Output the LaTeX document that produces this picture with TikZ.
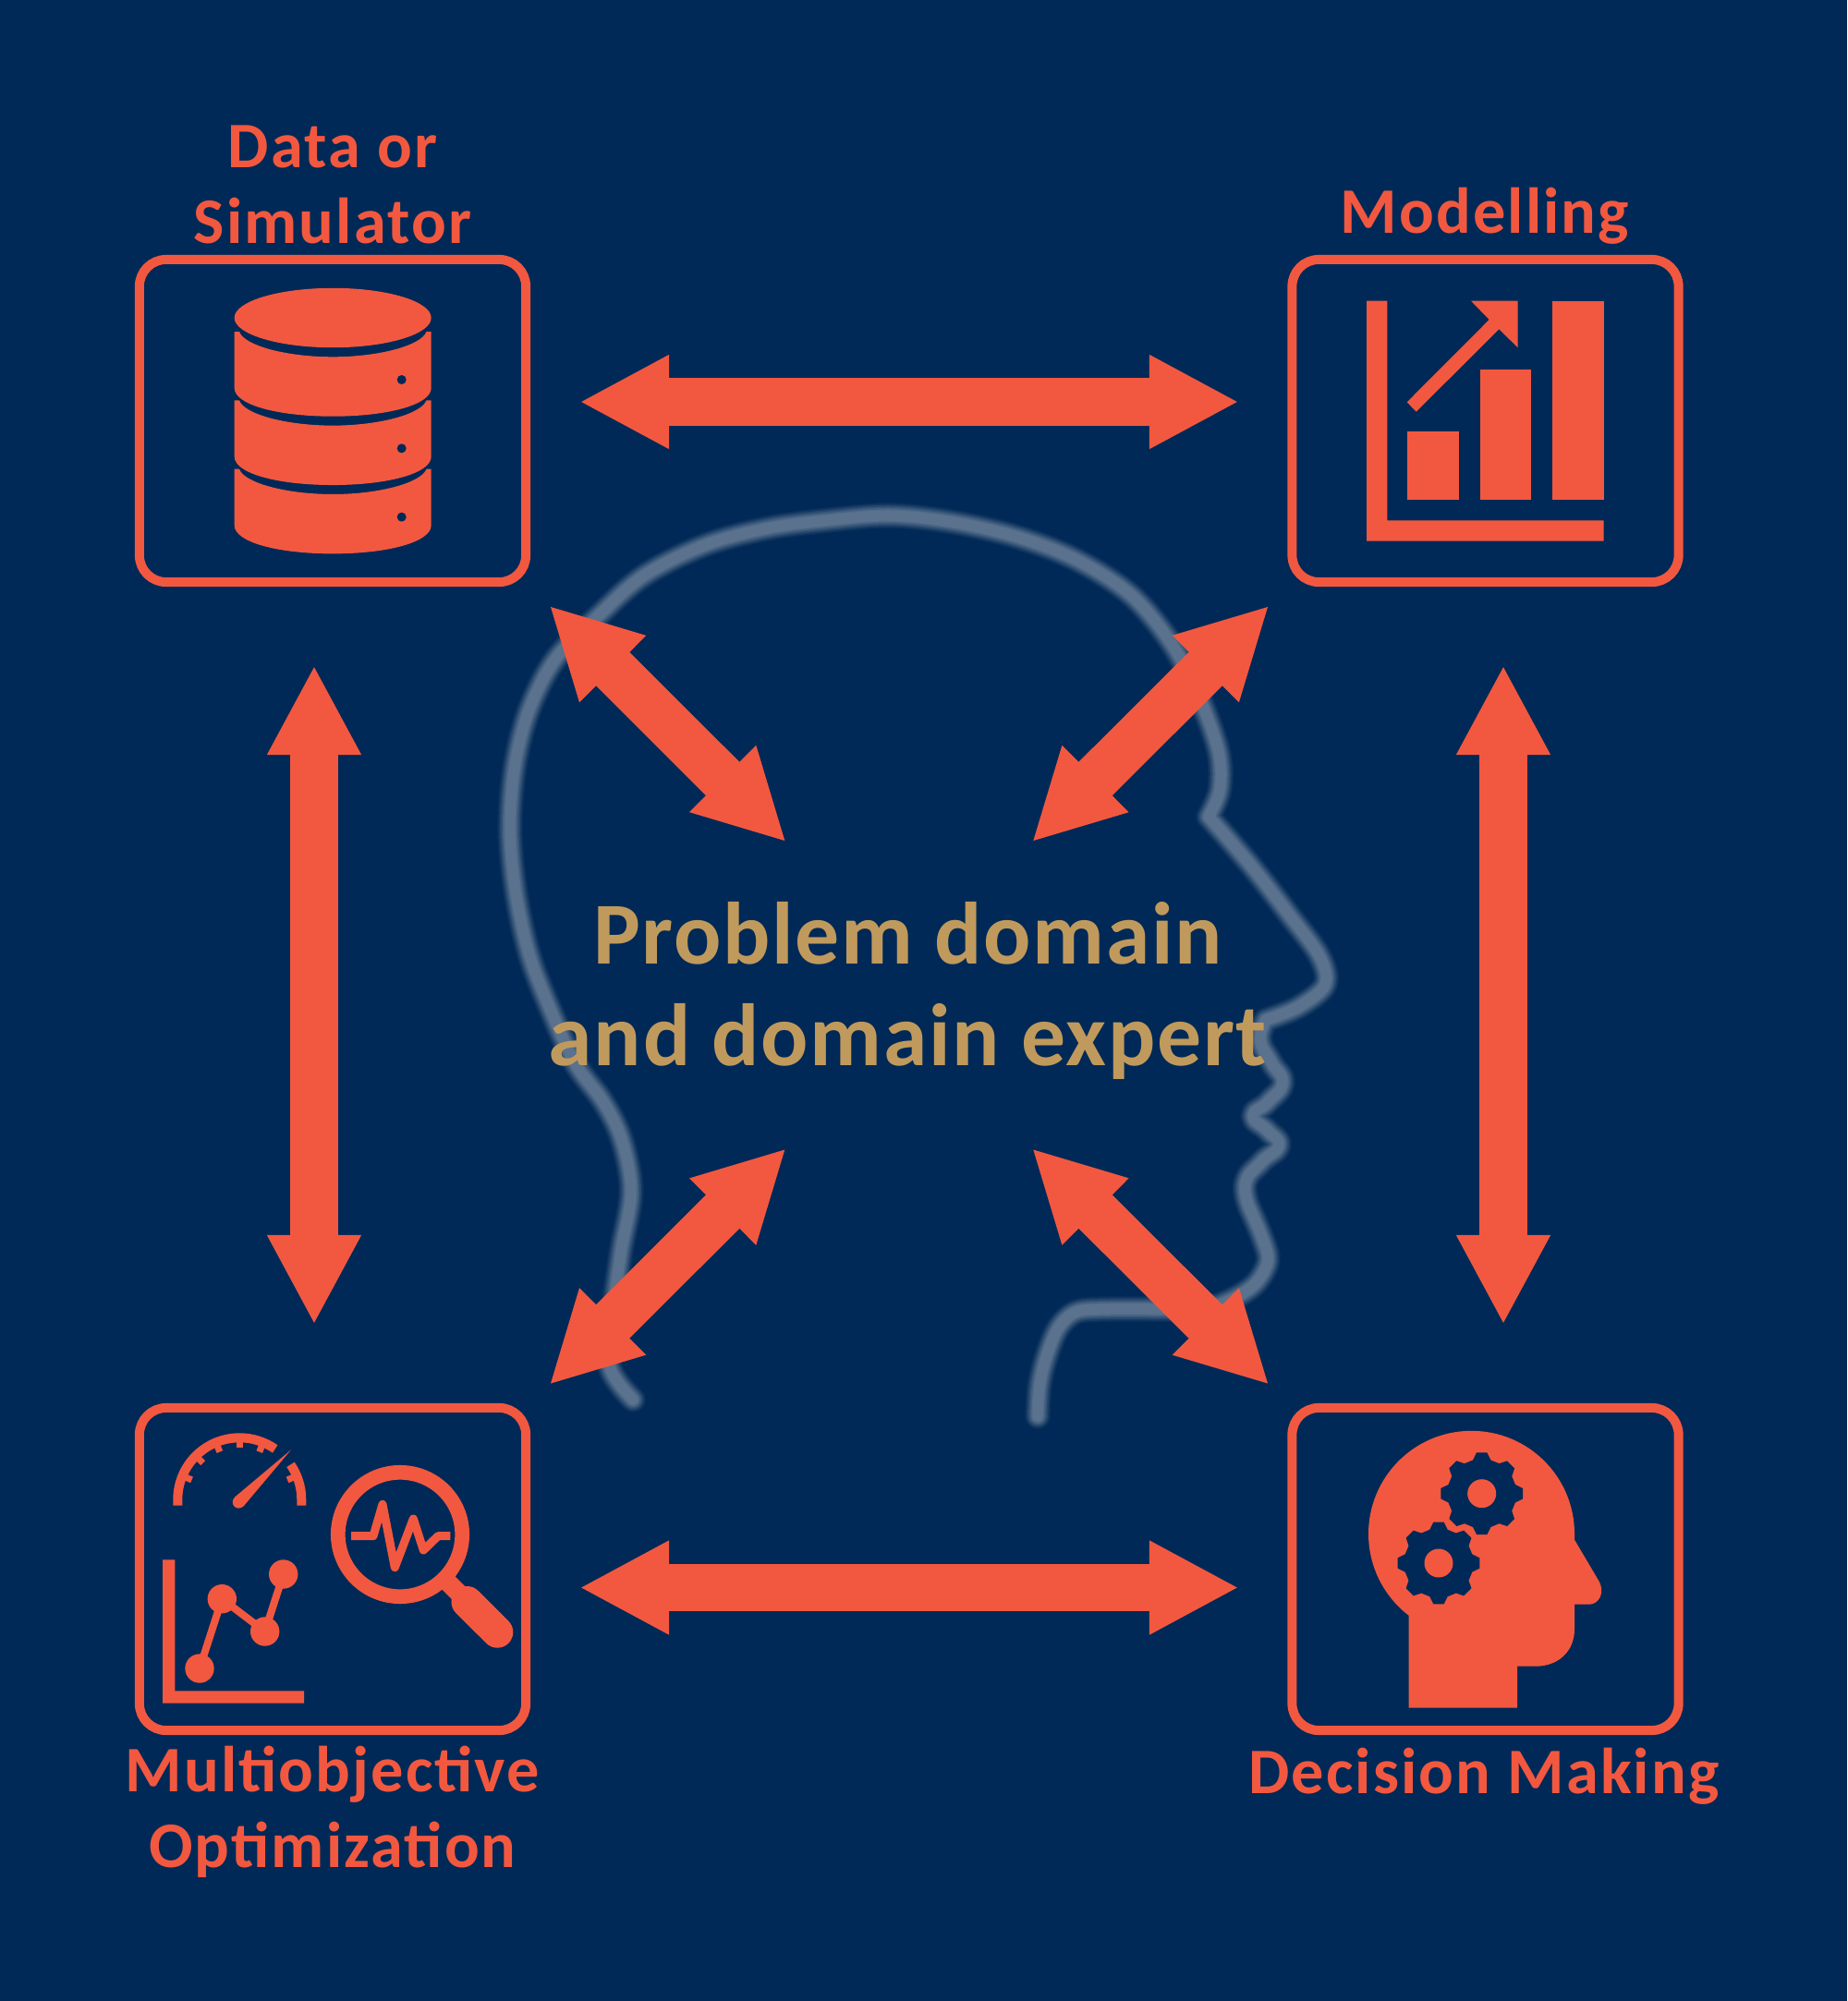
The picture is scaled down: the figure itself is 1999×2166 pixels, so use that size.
\documentclass[tikz,border=0pt]{standalone}
\usepackage{fontspec}
\setmainfont{Carlito}
\newfontfamily\lblfont{Carlito}[LetterSpace=3]
\newfontfamily\midfont{Carlito}[LetterSpace=1.8]
\usetikzlibrary{arrows.meta}
\definecolor{bgnavy}{RGB}{0,41,87}
\definecolor{acc}{RGB}{242,88,63}
\definecolor{gold}{RGB}{192,154,92}
\definecolor{headc}{RGB}{90,114,141}
\tikzset{
  iconbox/.style={draw=acc,line width=2.845pt,rounded corners=0.29cm,minimum width=4.18cm,minimum height=3.49cm,inner sep=0pt},
  lbl/.style={text=acc,font=\lblfont\bfseries\fontsize{20pt}{23.3pt}\selectfont,align=center,anchor=base,inner sep=0pt},
  midlbl/.style={text=gold,font=\midfont\bfseries\fontsize{27.2pt}{31.3pt}\selectfont,align=center,anchor=base,inner sep=0pt},
  dbl/.style={draw=acc,line width=14.6pt,{Triangle[length=27.6pt,width=26.9pt]}-{Triangle[length=27.6pt,width=26.9pt]}},
  ink/.style={fill=acc,draw=none},
  hole/.style={fill=bgnavy,draw=none},
  inkline/.style={draw=acc,line cap=butt,line join=round}
}
\newcommand{\gearshape}{(-15:37.5) foreach \a in {0,45,...,315}{ -- (\a-15:37.5) -- (\a-7.3:44.7) -- (\a+7.3:44.7) -- (\a+15:37.5)} -- cycle}
\begin{document}
\begin{tikzpicture}[x=0.01cm,y=-0.01cm]
\useasboundingbox (0,0) rectangle (1999,2166);
\fill[bgnavy] (0,0) rectangle (1999,2166);

% blurred head outline
\foreach \w/\c in {28/10,25/24,22/42,19/60,16/78,13/92,11/100}{
  \draw[color=headc!\c!bgnavy,line width=\w*0.2845pt,line cap=round,line join=round]
    plot[smooth,tension=.55] coordinates {(685,1515) (660,1480) (663,1425) (672,1355) (683,1290) (673,1234) (653,1193) (623,1152) (597,1096) (573,1034) (558,965) (552,897) (557,830) (572,770) (600,715) (647,667) (697,623) (763,590) (830,572) (897,563) (963,558) (1030,565) (1100,581) (1165,606) (1225,645) (1270,700) (1300,760) (1319,815) (1320,855) (1308,884)}
    plot[smooth,tension=.55] coordinates {(1308,884) (1353,936) (1395,990) (1428,1035) (1434,1066) (1405,1090) (1370,1104)}
    plot[smooth,tension=.8] coordinates {(1370,1104) (1364,1126) (1376,1150) (1388,1172) (1372,1193) (1356,1208) (1372,1224) (1384,1240) (1365,1258) (1348,1280) (1352,1307)}
    plot[smooth,tension=.55] coordinates {(1352,1307) (1366,1340) (1372,1365) (1358,1390) (1330,1408) (1300,1417) (1250,1417) (1200,1417) (1165,1420) (1145,1438) (1132,1470) (1125,1500) (1123,1533)};
}

% boxes
\node[iconbox] (data) at (360,455.5) {};
\node[iconbox] (model) at (1607.5,455.5) {};
\node[iconbox] (opt) at (360,1698.5) {};
\node[iconbox] (dm) at (1607.5,1698.5) {};

% labels
\node[lbl] (ldata) at (360,263) {Data or\\Simulator};
\node[lbl] (lmodel) at (1607,252) {Modelling};
\node[lbl] (lopt) at (360,2021) {Multiobjective\\Optimization};
\node[lbl] (ldm) at (1606,1941) {Decision Making};
\node[midlbl] (mid) at (982.5,1153.5) {Problem domain\\and domain expert};

% connector end points
\coordinate (t1) at (627,435); \coordinate (t2) at (1341,435);
\coordinate (b1) at (627,1718.5); \coordinate (b2) at (1341,1718.5);
\coordinate (l1) at (340,720); \coordinate (l2) at (340,1434);
\coordinate (r1) at (1627,720); \coordinate (r2) at (1627,1434);
\coordinate (d1) at (594.5,655.5); \coordinate (d2) at (850.8,911.5);
\coordinate (d3) at (1373.5,655.5); \coordinate (d4) at (1116.8,911.5);
\coordinate (d5) at (594.5,1499); \coordinate (d6) at (850.8,1243);
\coordinate (d7) at (1373.5,1499); \coordinate (d8) at (1116.8,1243);
\draw[dbl] (t1) -- (t2);
\draw[dbl] (b1) -- (b2);
\draw[dbl] (l1) -- (l2);
\draw[dbl] (r1) -- (r2);
\draw[dbl] (d1) -- (d2);
\draw[dbl] (d3) -- (d4);
\draw[dbl] (d5) -- (d6);
\draw[dbl] (d7) -- (d8);

% database icon
\fill[ink] (360.2,344) ellipse [x radius=106.5,y radius=32.2];
\foreach \k in {0,74.33,148.67}{
  \begin{scope}[yshift=-\k*0.01cm]
    \fill[ink] (253.7,359) -- (259,359) .. controls (264,374) and (310,386.3) .. (360.2,386.3)
      .. controls (410,386.3) and (456,374) .. (461.5,359) -- (466.7,359) -- (466.7,420)
      .. controls (466.7,438) and (420,450.7) .. (360.2,450.7)
      .. controls (300,450.7) and (253.7,438) .. (253.7,420) -- cycle;
    \fill[hole] (434.7,411) circle [radius=5];
  \end{scope}
}

% bar chart icon
\fill[ink] (1479,325.7) -- (1501.3,325.7) -- (1501.3,563.3) -- (1735.7,563.3) -- (1735.7,585.7) -- (1479,585.7) -- cycle;
\fill[ink] (1523.3,466.7) rectangle (1579.3,541);
\fill[ink] (1601.7,400) rectangle (1657.3,541);
\fill[ink] (1679.7,325.7) rectangle (1735.7,541);
\fill[ink] (1592,325.7) -- (1642.7,325.7) -- (1642.7,376.3) -- (1622.3,356.3) -- (1532.7,445.7) -- (1522.7,435.3) -- (1611.7,346) -- cycle;

% gauge
\draw[inkline,line width=2.845pt] (192.3,1629.7) -- (192.3,1623.3) arc[start angle=180,end angle=305,radius=67];
\draw[inkline,line width=2.845pt] (259.3,1623.3) ++(-34.5:67) arc[start angle=-34.5,end angle=0,radius=67] -- (326.3,1629.7);
\foreach \a in {202.5,225,247.5,270,292.5,337.5}{
  \draw[inkline,line width=2pt] (259.3,1623.3) ++(\a:63) -- ++(\a:-7);
}
\fill[ink] (315,1569.3) -- (263.5,1630.5) -- (253.5,1621) -- cycle;
\fill[ink] (258.3,1626) circle [radius=6.6];

% magnifier
\draw[inkline,line width=15.7*0.2845pt] (433,1661) circle [radius=67.2];
\draw[inkline,line width=20*0.2845pt] (483,1711) -- (510,1738);
\draw[inkline,line width=34*0.2845pt,line cap=round] (505.5,1734) -- (538.3,1766.7);
\draw[inkline,line width=9*0.2845pt] (380,1662.7) -- (404,1662.7) -- (414,1628.3) -- (427.3,1696.7) -- (447.3,1644) -- (458.3,1678) -- (474,1662.7) -- (487.3,1662.7);

% line chart
\fill[ink] (176,1688.3) -- (189.3,1688.3) -- (189.3,1830.3) -- (329,1830.3) -- (329,1843.7) -- (176,1843.7) -- cycle;
\draw[inkline,line width=8*0.2845pt] (216,1806) -- (240.3,1730.7) -- (286.7,1766) -- (306.7,1704);
\foreach \p in {(216,1806),(240.3,1730.7),(286.7,1766),(306.7,1704)}{
  \fill[ink] \p circle [radius=15.7];
}

% thinking head icon
\fill[ink] (1592.5,1660.3) circle [radius=111.5];
\fill[ink] (1704,1660) -- (1704,1666.7) -- (1730,1710.7) .. controls (1738,1724) and (1730,1736.7) .. (1720,1736.7)
  -- (1704,1736.7) -- (1704,1763.3) .. controls (1704,1788) and (1686,1803.7) .. (1661.7,1803.7)
  -- (1642,1803.7) -- (1642,1848.7) -- (1524.7,1848.7) -- (1524.7,1749) -- (1592,1660) -- cycle;
\begin{scope}[shift={(1603.7,1616.7)}]
  \fill[hole] \gearshape;
\end{scope}
\begin{scope}[shift={(1557,1692)}]
  \draw[acc,line width=1.7pt,line join=round] \gearshape;
  \fill[hole] \gearshape;
\end{scope}
\fill[ink] (1603.7,1616.7) circle [radius=15.5];
\fill[ink] (1557,1692) circle [radius=15.5];
\end{tikzpicture}
\end{document}
